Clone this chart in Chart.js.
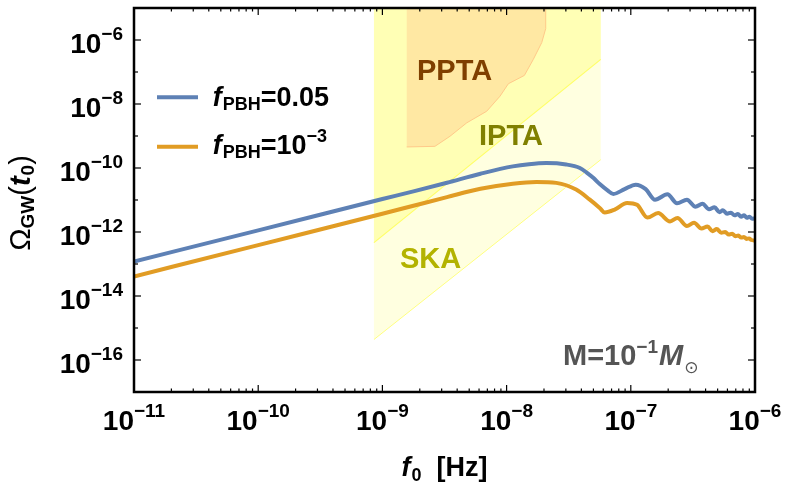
<!DOCTYPE html>
<html><head><meta charset="utf-8">
<style>html,body{margin:0;padding:0;background:#fff;}#wrap{width:789px;height:491px;}</style>
<script src="https://cdn.jsdelivr.net/npm/chart.js@4.4.0/dist/chart.umd.min.js"></script>
</head><body><div id="wrap"><canvas id="c" width="789" height="491"></canvas></div>
<script>
// ---- tick labels ----
const xTickValues = [1e-11, 1e-10, 1e-9, 1e-8, 1e-7, 1e-6];
const xTickLabels = ['10^−11', '10^−10', '10^−9', '10^−8', '10^−7', '10^−6'];
const yTickValues = [1e-16, 1e-14, 1e-12, 1e-10, 1e-8, 1e-6];
const yTickLabels = ['10^−16', '10^−14', '10^−12', '10^−10', '10^−8', '10^−6'];
const seriesLabels = ['f_PBH=0.05', 'f_PBH=10^−3'];

// ---- series: f_PBH = 0.05 ----
const freqA = [1e-11, 1e-10, 1e-9, 1.778e-9, 3.311e-9, 6.166e-9, 1.122e-8, 1.514e-8, 2.089e-8, 3.020e-8,
  3.890e-8, 4.416e-8, 5.012e-8, 5.623e-8, 6.457e-8, 7.244e-8, 8.913e-8, 1.096e-7, 1.318e-7, 1.567e-7,
  1.972e-7, 2.355e-7, 2.831e-7, 3.319e-7, 3.776e-7, 4.266e-7, 4.721e-7, 5.176e-7, 5.521e-7, 5.957e-7,
  6.397e-7, 6.839e-7, 7.278e-7, 7.727e-7, 8.166e-7, 8.590e-7, 9.036e-7, 9.484e-7, 1e-6];
const omegaA = [1.202e-13, 1.122e-12, 1.072e-11, 1.862e-11, 3.467e-11, 6.607e-11, 1.122e-10, 1.318e-10, 1.429e-10, 1.288e-10,
  1.0e-10, 7.190e-11, 4.830e-11, 3.140e-11, 2.040e-11, 1.549e-11, 2.188e-11, 3.020e-11, 2.188e-11, 1.023e-11,
  1.514e-11, 7.943e-12, 1.023e-11, 6.166e-12, 7.586e-12, 5.129e-12, 5.888e-12, 4.169e-12, 4.786e-12, 3.715e-12,
  4.027e-12, 3.311e-12, 3.631e-12, 3.020e-12, 3.311e-12, 2.786e-12, 3.020e-12, 2.600e-12, 2.692e-12];

// ---- series: f_PBH = 1e-3 ----
const freqB = [1e-11, 1e-10, 1e-9, 1.778e-9, 3.311e-9, 6.166e-9, 1.122e-8, 1.738e-8, 2.512e-8, 3.631e-8,
  4.677e-8, 5.623e-8, 6.166e-8, 7.413e-8, 9.333e-8, 1.122e-7, 1.361e-7, 1.660e-7, 2.070e-7, 2.377e-7,
  2.831e-7, 3.228e-7, 3.707e-7, 4.150e-7, 4.550e-7, 4.920e-7, 5.346e-7, 5.754e-7, 6.152e-7, 6.546e-7,
  6.950e-7, 7.345e-7, 7.745e-7, 8.147e-7, 8.551e-7, 8.954e-7, 9.354e-7, 1e-6];
const omegaB = [4.074e-14, 3.890e-13, 3.715e-12, 6.607e-12, 1.230e-11, 2.239e-11, 3.236e-11, 3.673e-11, 3.428e-11, 2.113e-11,
  1.023e-11, 5.623e-12, 4.074e-12, 5.012e-12, 8.128e-12, 7.079e-12, 2.818e-12, 3.890e-12, 2.138e-12, 2.754e-12,
  1.549e-12, 1.950e-12, 1.288e-12, 1.496e-12, 1.059e-12, 1.230e-12, 9.550e-13, 1.0e-12, 8.318e-13, 8.810e-13,
  7.413e-13, 7.762e-13, 6.683e-13, 6.998e-13, 6.095e-13, 6.310e-13, 5.623e-13, 5.433e-13];

// ---- sensitivity regions ----
const skaFreq  = [5.728e-8, 8.551e-10, 8.551e-10, 5.728e-8];
const skaOmega = [1.820e-10, 4.365e-16, 1e-5, 1e-5];
const iptaFreq  = [5.728e-8, 8.551e-10, 8.551e-10, 5.728e-8];
const iptaOmega = [2.483e-7, 4.656e-13, 1e-5, 1e-5];
const pptaFreq  = [1.570e-9, 2.649e-9, 3.499e-9, 4.775e-9, 6.918e-9, 8.851e-9, 1.033e-8, 1.390e-8, 1.641e-8, 1.919e-8, 2.065e-8, 2.065e-8, 1.570e-9];
const pptaOmega = [4.550e-10, 4.753e-10, 9.795e-10, 2.576e-9, 5.943e-9, 1.758e-8, 4.295e-8, 7.816e-8, 2.483e-7, 8.318e-7, 2.275e-6, 1e-5, 1e-5];

const regionNames = ['PPTA', 'IPTA', 'SKA'];
const massLabel = 'M=10^−1';

const pts = (xs, ys) => xs.map((v, i) => ({x: v, y: ys[i]}));
const F = '"Liberation Sans", Arial, Helvetica, sans-serif';
const BLUE = '#5E81B5', ORANGE = '#E19C24';

function rich(ctx, parts, x, y, align) {
  let w = 0;
  parts.forEach(p => { ctx.font = p[1]; p.w = ctx.measureText(p[0]).width; w += p.w + (p[3] || 0); });
  let cx = align === 'right' ? x - w : (align === 'center' ? x - w / 2 : x);
  parts.forEach(p => { ctx.font = p[1]; ctx.fillText(p[0], cx, y + (p[2] || 0)); cx += p.w + (p[3] || 0); });
}
function splitPow(s) { const i = s.indexOf('^'); return [s.slice(0, i), s.slice(i + 1)]; }

const deco = {
  id: 'deco',
  afterDatasetsDraw(chart) {
    const {ctx} = chart;
    ctx.save();
    ctx.textBaseline = 'alphabetic';
    ctx.font = 'bold 29px ' + F;
    ctx.fillStyle = '#7F3F00'; ctx.fillText(regionNames[0], 417, 80);
    ctx.fillStyle = '#808000'; ctx.fillText(regionNames[1], 479, 145);
    ctx.fillStyle = '#B3B300'; ctx.fillText(regionNames[2], 400, 268);
    ctx.restore();
  },
  afterDraw(chart) {
    const {ctx, chartArea: a, scales: {x, y}} = chart;
    ctx.save();
    ctx.textBaseline = 'alphabetic';
    // frame
    ctx.strokeStyle = '#000'; ctx.lineWidth = 2.5;
    ctx.strokeRect(a.left, a.top, a.right - a.left, a.bottom - a.top);
    // ticks
    ctx.lineWidth = 1.2;
    const seg = (x1, y1, x2, y2) => { ctx.beginPath(); ctx.moveTo(x1, y1); ctx.lineTo(x2, y2); ctx.stroke(); };
    for (let e = -11; e <= -6; e++) {
      for (let k = 1; k <= 9; k++) {
        const v = k * Math.pow(10, e);
        if (v > x.max * 1.0001) break;
        const px = x.getPixelForValue(v);
        const len = k === 1 ? 7 : 3.5;
        seg(px, a.bottom, px, a.bottom - len);
        seg(px, a.top, px, a.top + len);
      }
    }
    for (let e = -17; e <= -5; e++) {
      const py = y.getPixelForValue(Math.pow(10, e));
      const len = (e % 2 === 0) ? 7 : 4;
      seg(a.left, py, a.left + len, py);
      seg(a.right, py, a.right - len, py);
    }
    // tick labels
    ctx.fillStyle = '#000';
    xTickValues.forEach((v, i) => {
      const [b, ex] = splitPow(xTickLabels[i]);
      rich(ctx, [[b, 'bold 28px ' + F, 0], [ex, 'bold 19px ' + F, -13, 0]], x.getPixelForValue(v), a.bottom + 38, 'center');
    });
    yTickValues.forEach((v, i) => {
      const [b, ex] = splitPow(yTickLabels[i]);
      rich(ctx, [[b, 'bold 28px ' + F, 0], [ex, 'bold 19px ' + F, -13, 0]], a.left - 11, y.getPixelForValue(v) + 12.5, 'right');
    });
    // x title
    rich(ctx, [['f', 'italic bold 27px ' + F, 0, 1], ['0', 'bold 18px ' + F, 5], ['  [Hz]', 'bold 27px ' + F, 0]], (a.left + a.right) / 2, 476, 'center');
    // y title
    ctx.save();
    ctx.translate(29.5, (a.top + a.bottom) / 2 + 3);
    ctx.rotate(-Math.PI / 2);
    rich(ctx, [['Ω', '30px ' + F, 0], ['GW', 'bold 19px ' + F, 4], ['(', '29px ' + F, 0], ['t', 'italic bold 29px ' + F, 0, 1], ['0', 'bold 19px ' + F, 4], [')', '29px ' + F, 0]], 0, 0, 'center');
    ctx.restore();
    // legend
    const leg = [[BLUE, 97.3, 106], [ORANGE, 146.7, 154]];
    leg.forEach((L, i) => {
      ctx.strokeStyle = L[0]; ctx.lineWidth = 4;
      seg(157, L[1], 198, L[1]);
      ctx.fillStyle = '#000';
      const s = seriesLabels[i];
      const eq = s.slice(s.indexOf('='));
      const parts = [['f', 'italic bold 27px ' + F, 0, 1], ['PBH', 'bold 18px ' + F, 4]];
      if (eq.indexOf('^') >= 0) {
        const [b, ex] = splitPow(eq);
        parts.push([b, 'bold 27px ' + F, 0]); parts.push([ex, 'bold 18px ' + F, -12]);
      } else parts.push([eq, 'bold 27px ' + F, 0]);
      rich(ctx, parts, 212.7, L[2], 'left');
    });
    // mass annotation
    ctx.fillStyle = '#555';
    const [mb, me] = splitPow(massLabel);
    rich(ctx, [[mb, 'bold 29px ' + F, 0], [me, 'bold 19px ' + F, -12, 1], ['M', 'italic bold 29px ' + F, 0, 1], ['⊙', '17px "DejaVu Sans", sans-serif', 8]], 563, 365, 'left');
    ctx.restore();
  }
};

new Chart(document.getElementById('c'), {
  type: 'line',
  data: {
    datasets: [
      {label: seriesLabels[0], data: pts(freqA, omegaA), borderColor: BLUE, borderWidth: 4, pointRadius: 0, cubicInterpolationMode: 'monotone', fill: false, clip: 0},
      {label: seriesLabels[1], data: pts(freqB, omegaB), borderColor: ORANGE, borderWidth: 4, pointRadius: 0, cubicInterpolationMode: 'monotone', fill: false, clip: 0},
      {label: 'PPTA', data: pts(pptaFreq, pptaOmega), borderColor: '#FFC98A', borderWidth: 1, backgroundColor: '#FFE8A3', fill: 'shape', pointRadius: 0, tension: 0, clip: 0},
      {label: 'IPTA edge', data: pts(iptaFreq.slice(0, 2), iptaOmega.slice(0, 2)), borderColor: '#FFFF66', borderWidth: 1.2, fill: false, pointRadius: 0, tension: 0, clip: 0},
      {label: 'SKA edge', data: pts(skaFreq.slice(0, 2), skaOmega.slice(0, 2)), borderColor: '#FFFF80', borderWidth: 1, fill: false, pointRadius: 0, tension: 0, clip: 0},
      {label: 'IPTA', data: pts(iptaFreq, iptaOmega), borderWidth: 0, borderColor: 'rgba(0,0,0,0)', backgroundColor: '#FFFFB5', fill: 'shape', pointRadius: 0, tension: 0, clip: 0},
      {label: 'SKA', data: pts(skaFreq, skaOmega), borderWidth: 0, borderColor: 'rgba(0,0,0,0)', backgroundColor: '#FFFFE0', fill: 'shape', pointRadius: 0, tension: 0, clip: 0}
    ]
  },
  options: {
    responsive: false, animation: false, devicePixelRatio: 1, events: [],
    layout: {padding: {left: 0, top: 8, right: 34, bottom: 0}},
    plugins: {legend: {display: false}, tooltip: {enabled: false}},
    scales: {
      x: {type: 'logarithmic', min: 1e-11, max: 1e-6, grid: {display: false}, border: {display: false},
          ticks: {display: false}, afterFit: s => { s.height = 99; }},
      y: {type: 'logarithmic', min: 1e-17, max: 1e-5, grid: {display: false}, border: {display: false},
          ticks: {display: false}, afterFit: s => { s.width = 134; }}
    }
  },
  plugins: [deco]
});
</script></body></html>
